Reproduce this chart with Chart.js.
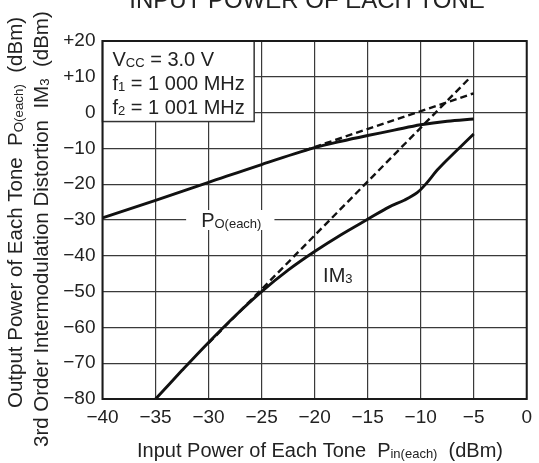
<!DOCTYPE html>
<html>
<head>
<meta charset="utf-8">
<script src="https://cdn.jsdelivr.net/npm/chart.js@4/dist/chart.umd.min.js"></script>
<style>
  html, body { margin: 0; padding: 0; background: #fff; }
  #wrap { width: 539px; height: 463px; }
</style>
</head>
<body>
<div id="wrap"><canvas id="c" width="539" height="463"></canvas></div>
<script>
// ---- data ----
const poX   = [-40, -35, -30, -25, -20, -17.5, -15, -12.5, -10, -7.5, -5];
const poY   = [-29.4, -24.5, -19.5, -14.5, -9.8, -8.0, -6.4, -4.9, -3.4, -2.4, -1.8];
const im3X  = [-35, -32.5, -30, -27.5, -25, -22.5, -20, -17.5, -15, -13, -11.5, -10.3, -9.5, -8.3, -5];
const im3Y  = [-80, -72, -64.2, -56.8, -50, -44, -38.8, -34.1, -29.8, -26.4, -24.4, -22.3, -19.9, -15.6, -6.0];
const poExtX  = [-21, -5];
const poExtY  = [-10.6, 5.4];
const im3ExtX = [-30, -5.5];
const im3ExtY = [-64.4, 9.3];

const xTicks = [-40, -35, -30, -25, -20, -15, -10, -5, 0];
const yTicks = [20, 10, 0, -10, -20, -30, -40, -50, -60, -70, -80];

const chartTitle = "INPUT POWER OF EACH TONE";
const yTitle1 = [["Output Power of Each Tone  P", 1], ["O(each)", 0.65], ["  (dBm)", 1]];
const yTitle2 = [["3rd Order Intermodulation Distortion  IM", 1], ["3", 0.65], ["  (dBm)", 1]];
const xTitle  = [["Input Power of Each Tone  P", 1], ["in(each)", 0.65], ["  (dBm)", 1]];
const condLines = [
  [["V", 1], ["CC", 0.65], [" = 3.0 V", 1]],
  [["f", 1], ["1", 0.65], [" = 1 000 MHz", 1]],
  [["f", 1], ["2", 0.65], [" = 1 001 MHz", 1]]
];
const condBox = { x0: -40, x1: -25.7, y0: 20, y1: -2.5 };
const poLabel  = { x: -30.7, y: -30, parts: [["P", 1], ["O(each)", 0.65]] };
const im3Label = { x: -19.2, y: -47.2, parts: [["IM", 1], ["3", 0.65]] };

// ---- helpers ----
const FAM = '"Liberation Sans", Arial, Helvetica, sans-serif';
const BASE = 20;
function fmt(v) {
  if (v > 0) return '+' + v;
  if (v < 0) return '\u2212' + Math.abs(v);
  return '0';
}
function drawParts(ctx, parts, x, y, size) {
  let cx = x;
  for (const [t, s] of parts) {
    ctx.font = (size * s) + 'px ' + FAM;
    ctx.fillText(t, cx, y + (s < 1 ? 1 : 0));
    cx += ctx.measureText(t).width;
  }
  return cx - x;
}
function partsWidth(ctx, parts, size) {
  let w = 0;
  for (const [t, s] of parts) {
    ctx.font = (size * s) + 'px ' + FAM;
    w += ctx.measureText(t).width;
  }
  return w;
}

const decor = {
  id: 'decor',
  beforeDatasetsDraw(chart) {
    const ctx = chart.ctx, xs = chart.scales.x, ys = chart.scales.y;
    ctx.save();
    ctx.fillStyle = '#222';
    ctx.textBaseline = 'alphabetic';
    ctx.textAlign = 'left';
    // conditions box
    const bx0 = xs.getPixelForValue(condBox.x0), bx1 = xs.getPixelForValue(condBox.x1);
    const by0 = ys.getPixelForValue(condBox.y0), by1 = ys.getPixelForValue(condBox.y1);
    ctx.fillStyle = '#fff';
    ctx.fillRect(bx0, by0, bx1 - bx0, by1 - by0);
    ctx.strokeStyle = '#333';
    ctx.lineWidth = 1.5;
    ctx.strokeRect(bx0, by0, bx1 - bx0, by1 - by0);
    ctx.fillStyle = '#222';
    condLines.forEach((ln, i) => drawParts(ctx, ln, bx0 + 10, by0 + 25 + i * 23.8, BASE));
    // P_O label with white background
    const px = xs.getPixelForValue(poLabel.x), py = ys.getPixelForValue(poLabel.y);
    const w = partsWidth(ctx, poLabel.parts, BASE);
    ctx.fillStyle = '#fff';
    ctx.fillRect(px - 15, py - 10, w + 28, 20);
    ctx.fillStyle = '#222';
    drawParts(ctx, poLabel.parts, px, py + 7, BASE);
    // IM3 label
    drawParts(ctx, im3Label.parts, xs.getPixelForValue(im3Label.x), ys.getPixelForValue(im3Label.y), BASE);
    ctx.restore();
  },
  afterDraw(chart) {
    const ctx = chart.ctx, a = chart.chartArea;
    ctx.save();
    ctx.strokeStyle = '#1a1a1a';
    ctx.lineWidth = 2;
    ctx.strokeRect(a.left, a.top, a.right - a.left, a.bottom - a.top);
    ctx.fillStyle = '#222';
    ctx.textBaseline = 'alphabetic';
    // chart title (last line only visible)
    ctx.font = '24px ' + FAM;
    ctx.textAlign = 'center';
    ctx.fillText(chartTitle, 307, 8);
    ctx.textAlign = 'left';
    // x title
    drawParts(ctx, xTitle, 137, 457, BASE);
    // y titles (rotated)
    ctx.save();
    ctx.translate(22, 408);
    ctx.rotate(-Math.PI / 2);
    drawParts(ctx, yTitle1, 0, 0, 20.5);
    ctx.restore();
    ctx.save();
    ctx.translate(48, 447);
    ctx.rotate(-Math.PI / 2);
    drawParts(ctx, yTitle2, 0, 0, 20.5);
    ctx.restore();
    ctx.restore();
  }
};

const toPts = (xa, ya) => xa.map((x, i) => ({ x, y: ya[i] }));

new Chart(document.getElementById('c'), {
  type: 'scatter',
  data: {
    datasets: [
      { label: 'PO', data: toPts(poX, poY), showLine: true, borderColor: '#111', borderWidth: 2.9, pointRadius: 0, tension: 0.35, fill: false },
      { label: 'IM3', data: toPts(im3X, im3Y), showLine: true, borderColor: '#111', borderWidth: 2.9, pointRadius: 0, tension: 0.35, fill: false },
      { label: 'PO ext', data: toPts(poExtX, poExtY), showLine: true, borderColor: '#111', borderWidth: 2.4, borderDash: [7, 4], pointRadius: 0, tension: 0, fill: false },
      { label: 'IM3 ext', data: toPts(im3ExtX, im3ExtY), showLine: true, borderColor: '#111', borderWidth: 2.4, borderDash: [7, 4], pointRadius: 0, tension: 0, fill: false }
    ]
  },
  options: {
    responsive: false,
    devicePixelRatio: 1,
    animation: false,
    layout: { padding: { top: 41, right: 7, left: 0, bottom: 0 } },
    plugins: { legend: { display: false }, tooltip: { enabled: false }, title: { display: false } },
    scales: {
      x: {
        type: 'linear', min: -40, max: 0,
        afterBuildTicks(s) { s.ticks = xTicks.map(v => ({ value: v })); },
        afterFit(s) { s.height = 64; },
        ticks: { callback: v => fmt(v), color: '#222', font: { family: FAM, size: 19 }, padding: 7, maxRotation: 0 },
        grid: { color: '#3a3a3a', lineWidth: 1.2, drawTicks: false },
        border: { display: false }
      },
      y: {
        type: 'linear', min: -80, max: 20,
        afterBuildTicks(s) { s.ticks = yTicks.map(v => ({ value: v })); },
        afterFit(s) { s.width = 102.5; },
        ticks: { callback: v => fmt(v), color: '#222', font: { family: FAM, size: 19 }, padding: 7 },
        grid: { color: '#3a3a3a', lineWidth: 1.2, drawTicks: false },
        border: { display: false }
      }
    }
  },
  plugins: [decor]
});
</script>
</body>
</html>
